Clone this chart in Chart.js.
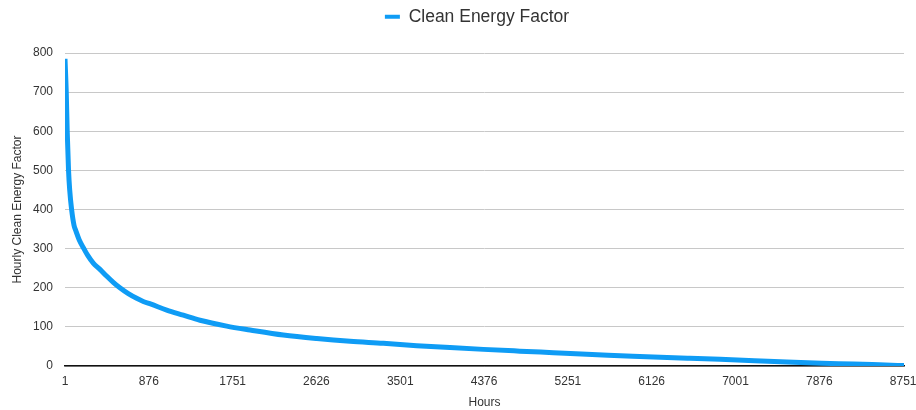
<!DOCTYPE html>
<html>
<head>
<meta charset="utf-8">
<script src="https://cdn.jsdelivr.net/npm/chart.js@4/dist/chart.umd.min.js"></script>
<style>
  html, body { margin: 0; padding: 0; background: #ffffff; }
  #wrap { width: 916px; height: 410px; position: relative; }
</style>
</head>
<body>
<div id="wrap"><canvas id="c"></canvas></div>
<script>
const seriesName = 'Clean Energy Factor';
const hours = [1, 14, 24, 38, 50, 70, 95, 115, 150, 198, 240, 296, 366, 435, 505, 574, 662, 749, 818, 900, 1063, 1236, 1410, 1689, 1933, 2280, 2629, 2977, 3325, 3673, 4021, 4369, 4750, 5100, 5448, 5800, 6144, 6500, 6840, 7200, 7537, 7900, 8233, 8500, 8760];
const factorValues = [785, 700, 600, 500, 450, 400, 360, 345, 322, 300, 282, 263, 247, 230, 214, 200, 185, 173, 165, 158, 143, 130, 117, 102, 92, 79, 70, 63, 58, 52, 47, 42.5, 38, 34, 30, 26.5, 23, 20, 17, 13.5, 10, 7, 5, 3, 1];
const xTickLabels = [1, 876, 1751, 2626, 3501, 4376, 5251, 6126, 7001, 7876, 8751];
const yTickLabels = [0, 100, 200, 300, 400, 500, 600, 700, 800];

const blue = '#0f9cf5';
const font = "'Liberation Sans', Arial, Helvetica, sans-serif";

const legendHeightPlugin = {
  id: 'legendHeight',
  afterInit(chart) {
    const legend = chart.legend;
    if (!legend) return;
    const origFit = legend.fit.bind(legend);
    legend.fit = function () { origFit(); this.height = 53; };
  },
  afterLayout(chart) {
    const legend = chart.legend;
    if (!legend) return;
    legend.left += 25;
    legend.right += 25;
  }
};

new Chart(document.getElementById('c'), {
  type: 'line',
  data: {
    datasets: [{
      label: seriesName,
      data: hours.map((h, i) => ({ x: h, y: factorValues[i] })),
      borderColor: blue,
      backgroundColor: blue,
      borderWidth: 5,
      pointRadius: 0,
      cubicInterpolationMode: 'monotone',
      fill: false
    }]
  },
  plugins: [legendHeightPlugin],
  options: {
    responsive: true,
    maintainAspectRatio: false,
    animation: false,
    devicePixelRatio: 1,
    layout: { padding: { left: 0, right: 12, top: 0, bottom: 0 } },
    plugins: {
      tooltip: { enabled: false },
      legend: {
        position: 'top',
        labels: {
          font: { family: font, size: 17.5 },
          color: '#333333',
          boxWidth: 15,
          boxHeight: 4,
          padding: 8,
          generateLabels: (chart) => chart.data.datasets.map((ds, i) => ({
            text: ds.label,
            fillStyle: blue,
            strokeStyle: blue,
            lineWidth: 0,
            fontColor: '#333333',
            datasetIndex: i,
            hidden: false
          }))
        }
      }
    },
    scales: {
      x: {
        type: 'linear',
        min: 1,
        max: 8760,
        afterBuildTicks: (scale) => { scale.ticks = xTickLabels.map(v => ({ value: v })); },
        afterFit: (scale) => { scale.height = 44; scale.paddingLeft = 0; scale.paddingRight = 0; },
        ticks: {
          autoSkip: false,
          maxRotation: 0,
          font: { family: font, size: 12 },
          color: '#333333',
          padding: 8,
          callback: (v) => String(v)
        },
        grid: { display: false, drawTicks: false },
        border: { display: true, color: '#111111', width: 1.5 },
        title: {
          display: true,
          text: 'Hours',
          font: { family: font, size: 12 },
          color: '#333333',
          padding: { top: 6, bottom: 0 }
        }
      },
      y: {
        min: 0,
        max: 800,
        afterBuildTicks: (scale) => { scale.ticks = yTickLabels.map(v => ({ value: v })); },
        afterFit: (scale) => { scale.width = 65; scale.paddingTop = 0; scale.paddingBottom = 0; },
        ticks: {
          font: { family: font, size: 12 },
          color: '#333333',
          padding: 12
        },
        grid: { color: '#c8c8c8', lineWidth: 1, drawTicks: false },
        border: { display: false },
        title: {
          display: true,
          text: 'Hourly Clean Energy Factor',
          font: { family: font, size: 12 },
          color: '#333333',
          padding: { top: 10, bottom: 4 }
        }
      }
    }
  }
});
</script>
</body>
</html>
